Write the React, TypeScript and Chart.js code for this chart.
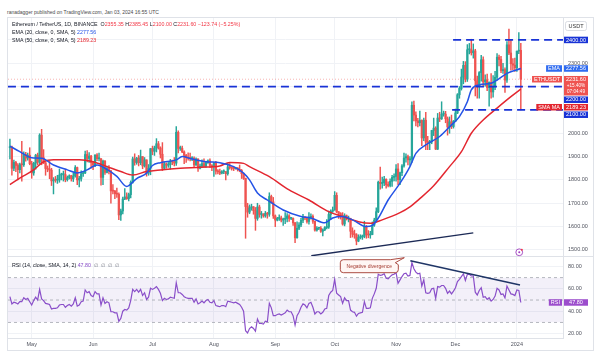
import React, { useEffect, useRef } from 'react';
import { Chart, registerables } from 'chart.js';

Chart.register(...registerables);

const FONT = "'Liberation Sans', Arial, sans-serif";

// day 0 = 1 May 2023; first candle = 20 Apr 2023
const START_DAY = -11;

const monthDays = [0, 31, 61, 92, 123, 153, 184, 214, 245];
const monthLabels = ['May', 'Jun', 'Jul', 'Aug', 'Sep', 'Oct', 'Nov', 'Dec', '2024'];

const priceTicks = [1500, 1600, 1700, 1800, 1900, 2000, 2100, 2200, 2300, 2400];
const rsiTicks = [20, 40, 60, 80];

const opens = [
  // Apr 20-30
  1938, 1941, 1850, 1875, 1862, 1844, 1866, 1865, 1909, 1894, 1906,
  // May
  1870, 1830, 1872, 1906, 1876, 1992, 1895, 1873, 1849, 1846, 1842, 1796, 1800, 1799, 1800, 1821, 1823, 1823, 1801, 1810, 1818, 1805, 1817, 1853, 1800, 1806, 1827, 1830, 1909, 1892, 1902,
  // Jun
  1874, 1864, 1907, 1891, 1891, 1811, 1881, 1832, 1849, 1839, 1753, 1752, 1741, 1739, 1650, 1667, 1718, 1727, 1720, 1737, 1790, 1890, 1875, 1893, 1874, 1900, 1860, 1886, 1829, 1850,
  // Jul
  1934, 1923, 1937, 1955, 1937, 1910, 1850, 1869, 1863, 1866, 1880, 1878, 1872, 2004, 1935, 1935, 1920, 1905, 1895, 1893, 1891, 1893, 1864, 1890, 1850, 1859, 1870, 1859, 1875, 1882, 1862,
  // Aug
  1857, 1872, 1838, 1835, 1829, 1835, 1836, 1827, 1856, 1853, 1850, 1848, 1851, 1844, 1841, 1827, 1807, 1686, 1662, 1680, 1685, 1668, 1635, 1684, 1652, 1652, 1646, 1657, 1653, 1729, 1706,
  // Sep
  1646, 1628, 1635, 1636, 1628, 1631, 1635, 1646, 1635, 1635, 1616, 1552, 1593, 1607, 1627, 1642, 1637, 1622, 1640, 1644, 1623, 1585, 1593, 1593, 1580, 1586, 1596, 1598, 1652, 1666,
  // Oct
  1671, 1734, 1663, 1656, 1647, 1611, 1647, 1633, 1633, 1580, 1567, 1565, 1538, 1553, 1556, 1558, 1600, 1565, 1564, 1566, 1606, 1628, 1664, 1790, 1785, 1788, 1803, 1780, 1776, 1794, 1811,
  // Nov
  1815, 1847, 1801, 1831, 1860, 1894, 1900, 1886, 1889, 2120, 2078, 2053, 2045, 2055, 1980, 2056, 1962, 1960, 1963, 2012, 2022, 1932, 2065, 2062, 2082, 2082, 2062, 2027, 2049, 2029,
  // Dec
  2052, 2087, 2165, 2192, 2241, 2291, 2232, 2358, 2358, 2345, 2353, 2225, 2202, 2260, 2315, 2220, 2229, 2196, 2218, 2177, 2200, 2240, 2326, 2316, 2268, 2273, 2228, 2379, 2344, 2298, 2292,
  // Jan
  2281, 2352, 2355.35,
];

const highs = [
  1975, 1945, 1885, 1880, 1870, 1872, 1965, 1920, 1918, 1915, 1938,
  1880, 1876, 1910, 1915, 1998, 2017, 1930, 1875, 1860, 1880, 1850, 1810, 1815, 1820, 1847, 1829, 1838, 1845, 1817, 1822, 1820, 1829, 1862, 1855, 1815, 1839, 1837, 1924, 1926, 1917, 1905,
  1880, 1908, 1913, 1915, 1891, 1885, 1883, 1859, 1861, 1841, 1780, 1755, 1765, 1745, 1675, 1727, 1763, 1745, 1744, 1796, 1898, 1912, 1897, 1905, 1928, 1900, 1896, 1886, 1866, 1935,
  1945, 1945, 1977, 1965, 1942, 1960, 1875, 1873, 1875, 1888, 1885, 1896, 2029, 2010, 1945, 1945, 1925, 1910, 1916, 1915, 1900, 1899, 1895, 1890, 1868, 1886, 1890, 1880, 1886, 1890, 1866,
  1875, 1880, 1844, 1846, 1840, 1843, 1836, 1870, 1870, 1857, 1855, 1853, 1853, 1864, 1845, 1829, 1808, 1700, 1693, 1696, 1686, 1682, 1700, 1692, 1665, 1656, 1665, 1661, 1745, 1735, 1725,
  1650, 1640, 1650, 1645, 1637, 1660, 1656, 1652, 1640, 1638, 1618, 1620, 1617, 1635, 1653, 1642, 1641, 1660, 1655, 1650, 1624, 1600, 1597, 1600, 1590, 1600, 1630, 1667, 1672, 1684,
  1750, 1745, 1665, 1660, 1660, 1655, 1650, 1645, 1636, 1595, 1585, 1570, 1565, 1565, 1564, 1623, 1605, 1583, 1580, 1620, 1636, 1680, 1795, 1855, 1812, 1815, 1805, 1792, 1805, 1820, 1826,
  1866, 1870, 1834, 1866, 1915, 1912, 1906, 1900, 2135, 2138, 2092, 2064, 2095, 2058, 2065, 2090, 1987, 1970, 2013, 2065, 2028, 2085, 2090, 2135, 2095, 2094, 2070, 2070, 2078, 2055,
  2104, 2170, 2200, 2275, 2308, 2307, 2380, 2385, 2403, 2383, 2360, 2245, 2264, 2334, 2328, 2250, 2254, 2220, 2256, 2247, 2265, 2342, 2335, 2330, 2300, 2280, 2393, 2446, 2400, 2320, 2322,
  2352, 2431, 2385.45,
];

const lows = [
  1890, 1820, 1840, 1835, 1800, 1830, 1795, 1858, 1880, 1885, 1865,
  1807, 1820, 1846, 1865, 1870, 1865, 1870, 1820, 1835, 1805, 1776, 1740, 1790, 1785, 1790, 1800, 1795, 1792, 1795, 1804, 1795, 1793, 1812, 1780, 1770, 1795, 1815, 1827, 1877, 1875, 1850,
  1844, 1857, 1883, 1881, 1778, 1780, 1824, 1830, 1826, 1700, 1740, 1720, 1725, 1630, 1626, 1654, 1715, 1717, 1710, 1723, 1786, 1863, 1867, 1860, 1865, 1848, 1855, 1816, 1820, 1822,
  1908, 1905, 1920, 1932, 1894, 1840, 1845, 1850, 1854, 1846, 1865, 1860, 1862, 1916, 1927, 1917, 1870, 1875, 1885, 1882, 1883, 1855, 1862, 1836, 1847, 1853, 1855, 1854, 1871, 1854, 1840,
  1815, 1825, 1826, 1823, 1826, 1827, 1800, 1820, 1846, 1842, 1840, 1846, 1838, 1835, 1806, 1802, 1550, 1640, 1655, 1670, 1653, 1584, 1627, 1640, 1636, 1640, 1640, 1636, 1644, 1700, 1635,
  1600, 1624, 1626, 1620, 1605, 1613, 1620, 1622, 1630, 1605, 1531, 1550, 1587, 1600, 1617, 1630, 1615, 1610, 1632, 1614, 1580, 1580, 1587, 1575, 1560, 1583, 1590, 1592, 1630, 1661,
  1670, 1660, 1635, 1632, 1606, 1603, 1628, 1620, 1553, 1555, 1550, 1522, 1535, 1547, 1545, 1552, 1550, 1552, 1550, 1565, 1601, 1620, 1660, 1760, 1765, 1775, 1765, 1770, 1770, 1772, 1796,
  1795, 1780, 1780, 1818, 1855, 1876, 1864, 1862, 1875, 2053, 2032, 2027, 2032, 1947, 1968, 1930, 1930, 1930, 1955, 1990, 1930, 1930, 2050, 2059, 2073, 2045, 1992, 2000, 2020, 2022,
  2050, 2084, 2150, 2185, 2212, 2220, 2222, 2340, 2335, 2322, 2160, 2150, 2150, 2223, 2202, 2202, 2183, 2116, 2150, 2155, 2187, 2228, 2289, 2260, 2257, 2175, 2218, 2337, 2270, 2273, 2265,
  2265, 2341, 2100,
];

const closes = [
  1941, 1850, 1875, 1862, 1844, 1866, 1865, 1909, 1894, 1906, 1870,
  1830, 1872, 1906, 1876, 1992, 1895, 1873, 1849, 1846, 1842, 1796, 1800, 1799, 1800, 1821, 1823, 1823, 1801, 1810, 1818, 1805, 1817, 1853, 1800, 1806, 1827, 1830, 1909, 1892, 1902, 1874,
  1864, 1907, 1891, 1891, 1811, 1881, 1832, 1849, 1839, 1753, 1752, 1741, 1739, 1650, 1667, 1718, 1727, 1720, 1737, 1790, 1890, 1875, 1893, 1874, 1900, 1860, 1886, 1829, 1850, 1934,
  1923, 1937, 1955, 1937, 1910, 1850, 1869, 1863, 1866, 1880, 1878, 1872, 2004, 1935, 1935, 1920, 1905, 1895, 1893, 1891, 1893, 1864, 1890, 1850, 1859, 1870, 1859, 1875, 1882, 1862, 1857,
  1872, 1838, 1835, 1829, 1835, 1836, 1827, 1856, 1853, 1850, 1848, 1851, 1844, 1841, 1827, 1807, 1686, 1662, 1680, 1685, 1668, 1635, 1684, 1652, 1652, 1646, 1657, 1653, 1729, 1706, 1646,
  1628, 1635, 1636, 1628, 1631, 1635, 1646, 1635, 1635, 1616, 1552, 1593, 1607, 1627, 1642, 1637, 1622, 1640, 1644, 1623, 1585, 1593, 1593, 1580, 1586, 1596, 1598, 1652, 1666, 1671,
  1734, 1663, 1656, 1647, 1611, 1647, 1633, 1633, 1580, 1567, 1565, 1538, 1553, 1556, 1558, 1600, 1565, 1564, 1566, 1606, 1628, 1664, 1790, 1785, 1788, 1803, 1780, 1776, 1794, 1811, 1815,
  1847, 1801, 1831, 1860, 1894, 1900, 1886, 1889, 2120, 2078, 2053, 2045, 2055, 1980, 2056, 1962, 1960, 1963, 2012, 2022, 1932, 2065, 2062, 2082, 2082, 2062, 2027, 2049, 2029, 2052,
  2087, 2165, 2192, 2241, 2291, 2232, 2358, 2358, 2345, 2353, 2225, 2202, 2260, 2315, 2220, 2229, 2196, 2218, 2177, 2200, 2240, 2326, 2316, 2268, 2273, 2228, 2379, 2344, 2298, 2292, 2281,
  2352, 2355, 2231.6,
];

const rsiValues = [
  53, 46.5, 48, 47.5, 46.5, 48.5, 48.5, 52, 50.5, 51.5, 48.5,
  45.5, 49.5, 52.5, 50, 59.5, 51, 49.5, 47, 46.5, 46, 42, 42.5, 42.5, 43, 45.5, 46, 46, 43.5, 45, 46, 44.5, 46.5, 52, 44.5, 45.5, 48.5, 49, 59, 56.5, 57.5, 54,
  53, 57.5, 55.5, 55.5, 45.5, 52, 47, 48.5, 47.5, 39.5, 39.5, 38.5, 38.5, 31, 33.5, 40, 41.5, 41, 43, 49.5, 59.5, 57.5, 59.5, 57, 59.5, 54, 56.5, 50.5, 52.5, 60.5,
  59.5, 60.5, 62, 59.5, 56, 49.5, 51.5, 50.5, 51, 52.5, 52, 51.5, 65.5, 56.5, 56.5, 55, 53, 52, 51.5, 51.5, 51.5, 48, 51, 46.5, 47.5, 49, 47.5, 49.5, 50.5, 48, 47.5,
  49.5, 45, 44.5, 44, 45, 45, 44, 49, 48.5, 48, 47.5, 48, 47, 46, 43.5, 40, 22.5, 20.5, 24.5, 26, 24.5, 22, 33, 29, 29, 28.5, 31, 30.5, 47, 43, 36,
  36, 37, 37.5, 36.5, 37.5, 38.5, 41, 39.5, 39.5, 36, 27.5, 36, 39, 43.5, 46.5, 45.5, 43, 47, 48, 43.5, 37.5, 39.5, 39.5, 37.5, 39, 42, 42.5, 54, 57, 58.5,
  68.5, 56, 54.5, 53, 47, 52, 49.5, 49.5, 41, 39.5, 39, 35.5, 38, 38.5, 39, 48.5, 42.5, 42.5, 43, 51.5, 55.5, 60.5, 73, 72, 72.5, 73.5, 69.5, 69, 71, 72.5, 73,
  74.5, 65, 68, 71, 73.5, 74, 71.5, 72, 83.5, 78, 75, 73.5, 74, 62.5, 68, 56.5, 56, 56.5, 60, 60.5, 51.5, 62, 61.5, 63, 63, 60.5, 56, 58, 55.5, 58,
  61, 66.5, 68.5, 71, 73.5, 67.5, 73, 73, 71.5, 71.5, 57, 54.5, 58.5, 61, 52.5, 53, 50.5, 52, 49, 50.5, 53.5, 60.5, 59, 55, 55.5, 52, 62.5, 59, 55.5, 55, 54,
  59, 58.5, 47.8,
];

// EMA 20
const emaDays = [-11, -6, 0, 5, 11, 18, 23, 28, 33, 38, 43, 48, 53, 58, 61, 65, 73, 76, 81, 88, 95, 102, 107, 110, 114, 119, 127, 136, 141, 148, 152, 157, 162, 169, 172, 175, 180, 186, 191, 194, 199, 206, 212, 216, 220, 222, 226, 232, 235, 240, 247];
const emaValues = [1945, 1921, 1895, 1893, 1864, 1843, 1830, 1843, 1864, 1845, 1815, 1772, 1806, 1829, 1862, 1874, 1886, 1900, 1890, 1878, 1874, 1857, 1829, 1800, 1744, 1714, 1671, 1643, 1637, 1616, 1637, 1643, 1629, 1600, 1605, 1636, 1714, 1786, 1857, 1914, 1950, 1986, 2036, 2071, 2135, 2186, 2207, 2214, 2228, 2257, 2277.56];

// SMA 50
const smaDays = [-11, -6, 1, 6, 11, 18, 24, 31, 38, 45, 51, 58, 65, 75, 85, 95, 100, 107, 110, 120, 130, 140, 150, 157, 165, 171, 177, 186, 191, 196, 203, 211, 217, 222, 228, 235, 242, 247];
const smaValues = [1780, 1808, 1843, 1878, 1886, 1886, 1886, 1878, 1857, 1836, 1821, 1836, 1843, 1850, 1854, 1860, 1875, 1871, 1857, 1814, 1757, 1714, 1664, 1643, 1621, 1614, 1629, 1660, 1685, 1720, 1775, 1857, 1921, 2000, 2057, 2108, 2157, 2189.23];

// horizontal levels: [price, first day]
const levelPrices = [2400, 2200, 2100];
const levelFrom = [212.8, -12, 212.3];

// trend lines
const priceTrendDays = [141.2, 223];
const priceTrendValues = [1475, 1573];
const rsiTrendDays = [191.2, 246.6];
const rsiTrendValues = [85.2, 63.4];

const X_MIN = -11.97;
const X_MAX = 268.3;

const UP = '#26a69a';
const DOWN = '#ef5350';
const LEVEL_BLUE = '#1833d6';
const EMA_BLUE = '#2453e6';
const SMA_RED = '#e3262f';
const RSI_PURPLE = '#8a4fc9';
const GRID = '#f0f2f6';
const BORDER = '#dfe2e8';

export default function App() {
  const ref = useRef<HTMLCanvasElement>(null);

  useEffect(() => {
    const xs = closes.map((_, i) => START_DAY + i);
    const colors = closes.map((c, i) => (c >= opens[i] ? UP : DOWN));
    const last = closes.length - 1;

    const datasets: any[] = [
      {
        type: 'line', label: 'rsiTrend', yAxisID: 'rsi', order: 0,
        data: rsiTrendDays.map((d, i) => ({ x: d, y: rsiTrendValues[i] })),
        borderColor: '#1f3566', borderWidth: 1.4, pointRadius: 0,
      },
      {
        type: 'line', label: 'RSI', yAxisID: 'rsi', order: 1,
        data: xs.map((x, i) => ({ x, y: rsiValues[i] })),
        borderColor: RSI_PURPLE, borderWidth: 1.2, pointRadius: 0, tension: 0,
      },
      {
        type: 'line', label: 'priceTrend', yAxisID: 'y', order: 2,
        data: priceTrendDays.map((d, i) => ({ x: d, y: priceTrendValues[i] })),
        borderColor: '#1c2a56', borderWidth: 1.4, pointRadius: 0,
      },
      ...levelPrices.map((p, i) => ({
        type: 'line', label: 'level' + p, yAxisID: 'y', order: 3,
        data: [{ x: levelFrom[i], y: p }, { x: X_MAX, y: p }],
        borderColor: LEVEL_BLUE, borderWidth: 1.8, borderDash: [8, 5], pointRadius: 0,
      })),
      {
        type: 'line', label: 'EMA', yAxisID: 'y', order: 4,
        data: emaDays.map((d, i) => ({ x: d, y: emaValues[i] })),
        borderColor: EMA_BLUE, borderWidth: 1.5, pointRadius: 0, cubicInterpolationMode: 'monotone',
      },
      {
        type: 'line', label: 'SMA', yAxisID: 'y', order: 5,
        data: smaDays.map((d, i) => ({ x: d, y: smaValues[i] })),
        borderColor: SMA_RED, borderWidth: 1.5, pointRadius: 0, cubicInterpolationMode: 'monotone',
      },
      {
        type: 'bar', label: 'bodies', yAxisID: 'y', order: 9, grouped: false,
        data: xs.map((x, i) => ({ x, y: [opens[i], closes[i]] })),
        backgroundColor: colors, barThickness: 1.6, minBarLength: 1, borderWidth: 0,
      },
      {
        type: 'bar', label: 'wicks', yAxisID: 'y', order: 10, grouped: false,
        data: xs.map((x, i) => ({ x, y: [lows[i], highs[i]] })),
        backgroundColor: colors, barThickness: 0.8, borderWidth: 0,
      },
      {
        type: 'line', label: 'lastPrice', yAxisID: 'y', order: 18,
        data: [{ x: X_MIN, y: closes[last] }, { x: X_MAX, y: closes[last] }],
        borderColor: 'rgba(239,83,80,0.55)', borderWidth: 0.8, borderDash: [1, 2], pointRadius: 0,
      },
      {
        type: 'line', label: 'rsi50', yAxisID: 'rsi', order: 19,
        data: [{ x: X_MIN, y: 50 }, { x: X_MAX, y: 50 }],
        borderColor: '#a3a6af', borderWidth: 0.8, borderDash: [3, 3], pointRadius: 0,
      },
      {
        type: 'line', label: 'rsi30', yAxisID: 'rsi', order: 19,
        data: [{ x: X_MIN, y: 30 }, { x: X_MAX, y: 30 }],
        borderColor: '#a3a6af', borderWidth: 0.8, borderDash: [3, 3], pointRadius: 0,
      },
      {
        type: 'line', label: 'rsiBand', yAxisID: 'rsi', order: 20,
        data: [{ x: X_MIN, y: 70 }, { x: X_MAX, y: 70 }],
        borderColor: '#a3a6af', borderWidth: 0.8, borderDash: [3, 3], pointRadius: 0,
        fill: { value: 30 }, backgroundColor: 'rgba(126,87,194,0.09)',
      },
    ];

    const priceLabels = [
      { value: 2400, name: '', lines: ['2400.00'], bg: LEVEL_BLUE },
      { value: emaValues[emaValues.length - 1], name: 'EMA', lines: ['2277.56'], bg: '#2f6bf0' },
      { value: closes[last], name: 'ETHUSDT', lines: ['2231.60', '+15.40%', '07:04:49'], bg: '#ef5350' },
      { value: 2200, name: '', lines: ['2200.00'], bg: LEVEL_BLUE },
      { value: smaValues[smaValues.length - 1], name: 'SMA MA', lines: ['2189.23'], bg: SMA_RED },
      { value: 2100, name: '', lines: ['2100.00'], bg: LEVEL_BLUE },
    ];

    const tvPlugin = {
      id: 'tvOverlay',
      afterDraw(chart: any) {
        const ctx = chart.ctx;
        const ys = chart.scales.y;
        const rs = chart.scales.rsi;
        const xsc = chart.scales.x;
        const axisX = chart.chartArea.right;
        ctx.save();
        // pane separator
        ctx.strokeStyle = BORDER;
        ctx.lineWidth = 1;
        ctx.beginPath();
        ctx.moveTo(0, Math.round(rs.top) + 0.5);
        ctx.lineTo(chart.width, Math.round(rs.top) + 0.5);
        ctx.stroke();

        ctx.font = `5.5px ${FONT}`;
        ctx.textBaseline = 'middle';
        // USDT box
        ctx.fillStyle = '#fff';
        ctx.strokeStyle = '#d1d4dc';
        ctx.lineWidth = 0.8;
        ctx.beginPath();
        ctx.roundRect(axisX + 2.5, chart.chartArea.top + 3.5, 21, 9, 2);
        ctx.fill();
        ctx.stroke();
        ctx.fillStyle = '#333';
        ctx.textAlign = 'center';
        ctx.fillText('USDT', axisX + 13, chart.chartArea.top + 8);

        const drawBox = (py: number, name: string, lines: string[], bg: string, minTop: number) => {
          const h = lines.length === 1 ? 6.5 : lines.length * 6.3 + 0.6;
          let top = py - 3.25;
          if (top < minTop) top = minTop;
          ctx.fillStyle = bg;
          ctx.fillRect(axisX + 1, top, 24, h);
          ctx.fillStyle = '#fff';
          ctx.textAlign = 'center';
          lines.forEach((t, k) => {
            ctx.font = k === 0 ? `5.5px ${FONT}` : `4.6px ${FONT}`;
            ctx.fillText(t, axisX + 13, top + 3.4 + k * 6.3);
          });
          ctx.font = `5.5px ${FONT}`;
          if (name) {
            const w = ctx.measureText(name).width + 4;
            ctx.fillStyle = bg;
            ctx.fillRect(axisX - 1 - w, top, w, 6.5);
            ctx.fillStyle = '#fff';
            ctx.fillText(name, axisX - 1 - w / 2, top + 3.4);
          }
          return top + h;
        };

        let bottom = -1000;
        priceLabels
          .map((l) => ({ ...l, py: ys.getPixelForValue(l.value) }))
          .sort((a, b) => a.py - b.py)
          .forEach((l) => {
            bottom = drawBox(l.py, l.name, l.lines, l.bg, bottom + 1);
          });
        drawBox(rs.getPixelForValue(rsiValues[last]), 'RSI', [rsiValues[last].toFixed(2)], '#9c4dcc', -1000);

        // "Negative divergence" callout anchored at RSI trendline start
        const ax = xsc.getPixelForValue(rsiTrendDays[0]);
        const ay = rs.getPixelForValue(rsiTrendValues[0]);
        const bw = 58, bh = 13;
        const bx = ax - 12 - bw, by = ay - 1;
        ctx.fillStyle = '#fff6f4';
        ctx.strokeStyle = '#a33a30';
        ctx.lineWidth = 0.9;
        ctx.beginPath();
        ctx.moveTo(bx + 3, by);
        ctx.lineTo(bx + bw - 8, by);
        ctx.lineTo(ax - 6, ay - 3);
        ctx.lineTo(bx + bw - 3, by + 3);
        ctx.lineTo(bx + bw, by + 5);
        ctx.lineTo(bx + bw, by + bh - 3);
        ctx.quadraticCurveTo(bx + bw, by + bh, bx + bw - 3, by + bh);
        ctx.lineTo(bx + 3, by + bh);
        ctx.quadraticCurveTo(bx, by + bh, bx, by + bh - 3);
        ctx.lineTo(bx, by + 3);
        ctx.quadraticCurveTo(bx, by, bx + 3, by);
        ctx.closePath();
        ctx.fill();
        ctx.stroke();
        ctx.fillStyle = '#a33a30';
        ctx.font = `5px ${FONT}`;
        ctx.textAlign = 'center';
        ctx.fillText('Negative divergence', bx + bw / 2, by + bh / 2 + 0.3);

        // small event marker near last bar
        const mx = xsc.getPixelForValue(246.2);
        const my = ys.getPixelForValue(1490);
        ctx.strokeStyle = '#a040c0';
        ctx.lineWidth = 0.9;
        ctx.beginPath();
        ctx.arc(mx, my, 3.4, 0, Math.PI * 2);
        ctx.stroke();
        ctx.fillStyle = '#a040c0';
        ctx.beginPath();
        ctx.arc(mx, my, 1, 0, Math.PI * 2);
        ctx.fill();
        ctx.fillStyle = '#f23645';
        ctx.beginPath();
        ctx.arc(mx + 2.6, my - 2.6, 1, 0, Math.PI * 2);
        ctx.fill();
        ctx.restore();
      },
    };

    const tickFont = { family: FONT, size: 5.5 };
    const fitV = (s: any) => { s.width = 30; s.paddingTop = 0; s.paddingBottom = 0; };
    const chart = new Chart(ref.current as HTMLCanvasElement, {
      type: 'bar',
      data: { datasets },
      options: {
        animation: false,
        responsive: true,
        maintainAspectRatio: false,
        devicePixelRatio: 1,
        layout: { padding: 0 },
        events: [],
        plugins: { legend: { display: false }, tooltip: { enabled: false } },
        scales: {
          x: {
            type: 'linear', min: X_MIN, max: X_MAX, offset: false, position: 'bottom',
            afterBuildTicks: (s: any) => { s.ticks = monthDays.map((v) => ({ value: v })); },
            afterFit: (s: any) => { s.height = 12; s.paddingLeft = 0; s.paddingRight = 0; },
            ticks: {
              autoSkip: false, maxRotation: 0, padding: 3, font: tickFont, color: '#50535e',
              callback: (_v: any, i: number) => monthLabels[i],
            },
            grid: { color: GRID, drawTicks: false, offset: false },
            border: { display: true, color: BORDER },
          },
          y: {
            type: 'linear', position: 'right', stack: 'panes', stackWeight: 238,
            min: 1474, max: 2494,
            afterBuildTicks: (s: any) => { s.ticks = priceTicks.map((v) => ({ value: v })); },
            afterFit: fitV,
            ticks: {
              padding: 5, font: tickFont, color: '#50535e', crossAlign: 'near',
              callback: (v: any) => (levelPrices.includes(Number(v)) ? '' : Number(v).toFixed(2)),
            },
            grid: { color: GRID, drawTicks: false },
            border: { display: true, color: BORDER },
          },
          rsi: {
            type: 'linear', position: 'right', stack: 'panes', stackWeight: 82,
            min: 16, max: 89.4,
            afterBuildTicks: (s: any) => { s.ticks = rsiTicks.map((v) => ({ value: v })); },
            afterFit: fitV,
            ticks: {
              padding: 5, font: tickFont, color: '#50535e',
              callback: (v: any) => Number(v).toFixed(2),
            },
            grid: { color: GRID, drawTicks: false },
            border: { display: true, color: BORDER },
          },
        },
      } as any,
      plugins: [tvPlugin],
    });
    return () => chart.destroy();
  }, []);

  const legendStyle: React.CSSProperties = {
    position: 'absolute', left: 12, fontSize: 5.3, lineHeight: '7px', height: 7,
    color: '#131722', whiteSpace: 'nowrap', zIndex: 2,
  };
  const red = { color: '#f23645' };

  return (
    <div style={{ position: 'absolute', left: 0, top: 0, width: 600, height: 355, background: '#fff', fontFamily: FONT, overflow: 'hidden' }}>
      <div style={{ position: 'absolute', left: 7, top: 8.5, fontSize: 5, lineHeight: '7px', color: '#4a4a4a', whiteSpace: 'nowrap' }}>
        ranadagger published on TradingView.com, Jan 03, 2024 16:55 UTC
      </div>
      <div style={{ position: 'absolute', left: 7, top: 17, width: 587, height: 334, border: `1px solid ${BORDER}`, boxSizing: 'border-box' }} />
      <div style={{ position: 'absolute', left: 8, top: 18, width: 585, height: 332 }}>
        <canvas ref={ref} />
      </div>
      <div style={{ ...legendStyle, top: 21 }}>
        Ethereum / TetherUS, 1D, BINANCE&nbsp; O<span style={red}>2355.35</span> H<span style={red}>2385.45</span> L<span style={red}>2100.00</span> C<span style={red}>2231.60</span> <span style={red}>−123.74 (−5.25%)</span>
      </div>
      <div style={{ ...legendStyle, top: 29 }}>
        EMA (20, close, 0, SMA, 5) <span style={{ color: EMA_BLUE }}>2277.56</span>
      </div>
      <div style={{ ...legendStyle, top: 36.5 }}>
        SMA (50, close, 0, SMA, 5) <span style={{ color: SMA_RED }}>2189.23</span>
      </div>
      <div style={{ ...legendStyle, top: 261.5 }}>
        RSI (14, close, SMA, 14, 2) <span style={{ color: RSI_PURPLE }}>47.80</span>
        <span style={{ color: '#787b86' }}>&nbsp; ∅ &nbsp;∅ &nbsp;∅ &nbsp;∅</span>
      </div>
    </div>
  );
}
